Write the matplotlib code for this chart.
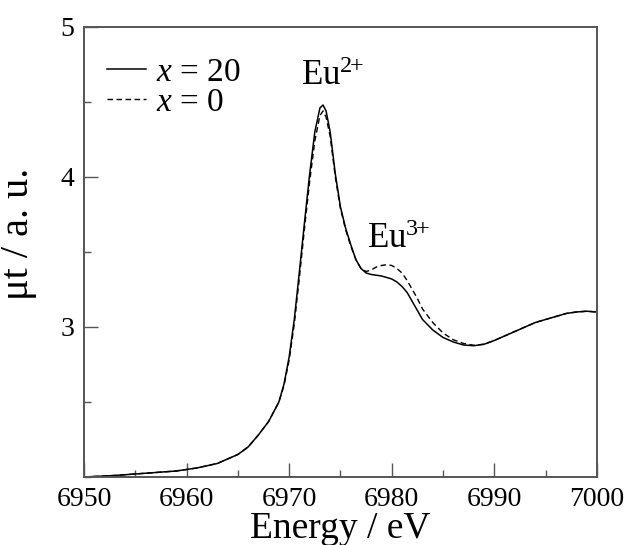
import matplotlib
matplotlib.use('Agg')
import matplotlib.pyplot as plt
from matplotlib.ticker import MultipleLocator

# XANES Eu L3-edge spectra
energy_20 = [6950, 6953, 6956, 6959, 6961, 6963, 6965, 6966, 6967, 6968, 6969,
             6969.5, 6970, 6970.5, 6971, 6971.5, 6972, 6972.5, 6973, 6973.3,
             6973.6, 6974, 6974.5, 6975, 6975.5, 6976, 6976.5, 6977, 6977.5,
             6978, 6979, 6980, 6980.5, 6981, 6981.5, 6982, 6982.5, 6983, 6984,
             6985, 6986, 6987, 6988, 6989, 6990, 6991, 6992, 6993, 6994, 6995,
             6996, 6997, 6998, 6999, 7000]
mut_20 = [2.00, 2.01, 2.025, 2.04, 2.06, 2.09, 2.15, 2.20, 2.28, 2.37, 2.50,
          2.62, 2.80, 3.05, 3.37, 3.70, 4.02, 4.30, 4.46, 4.48,
          4.44, 4.30, 4.02, 3.80, 3.66, 3.55, 3.45, 3.39, 3.36,
          3.35, 3.34, 3.32, 3.30, 3.27, 3.23, 3.17, 3.11, 3.05, 2.98,
          2.93, 2.90, 2.88, 2.875, 2.885, 2.91, 2.94, 2.97, 3.00, 3.03, 3.05,
          3.07, 3.09, 3.10, 3.105, 3.10]

energy_0 = [6950, 6953, 6956, 6959, 6961, 6963, 6965, 6966, 6967, 6968, 6969,
            6969.5, 6970, 6970.5, 6971, 6971.5, 6972, 6972.5, 6973, 6973.3,
            6973.6, 6974, 6974.5, 6975, 6975.5, 6976, 6976.5, 6977, 6977.5,
            6978, 6978.5, 6979, 6979.5, 6980, 6980.5, 6981, 6981.5, 6982,
            6982.5, 6983, 6984, 6985, 6986, 6987, 6988, 6989, 6990, 6991, 6992,
            6993, 6994, 6995, 6996, 6997, 6998, 6999, 7000]
mut_0 = [2.00, 2.01, 2.025, 2.04, 2.06, 2.09, 2.15, 2.20, 2.28, 2.37, 2.50,
         2.61, 2.78, 3.02, 3.33, 3.66, 3.97, 4.24, 4.41, 4.44,
         4.40, 4.27, 4.00, 3.79, 3.65, 3.54, 3.45, 3.39, 3.37,
         3.38, 3.40, 3.41, 3.415, 3.41, 3.39, 3.36, 3.31, 3.25,
         3.19, 3.12, 3.03, 2.96, 2.915, 2.89, 2.878, 2.885, 2.91, 2.94, 2.97,
         3.00, 3.03, 3.05, 3.07, 3.09, 3.10, 3.105, 3.10]

plt.rcParams['font.family'] = 'Liberation Serif'
plt.rcParams['mathtext.fontset'] = 'custom'
plt.rcParams['mathtext.rm'] = 'Liberation Serif'
plt.rcParams['mathtext.it'] = 'Liberation Serif:italic'

fig = plt.figure(figsize=(6.29, 5.45), dpi=100)
ax = fig.add_axes([0.1335, 0.1248, 0.8155, 0.8257])

ax.plot(energy_20, mut_20, color='black', lw=1.1, ls='-', label='$x$ = 20')
ax.plot(energy_0, mut_0, color='black', lw=1.0, ls=(0, (4, 2.5)), label='$x$ = 0')

ax.set_xlim(6950, 7000)
ax.set_ylim(2, 5)
ax.xaxis.set_major_locator(MultipleLocator(10))
ax.xaxis.set_minor_locator(MultipleLocator(5))
ax.set_yticks([3, 4, 5])
ax.yaxis.set_minor_locator(MultipleLocator(0.5))
ax.tick_params(which='both', direction='in', top=False, right=False,
               color='#555555', width=1.0, labelsize=20, pad=7)
ax.tick_params(which='major', length=10)
ax.tick_params(which='minor', length=5)
for s in ax.spines.values():
    s.set_color('#555555')
    s.set_linewidth(1.4)

ax.set_xlabel('Energy / eV', fontsize=27, labelpad=0)
ax.set_ylabel('μt / a. u.', fontsize=29)
ax.yaxis.set_label_coords(-0.092, 0.54)

ax.text(6974.2, 4.56, r'Eu$^{2\!{+}}$', fontsize=25, ha='center', va='bottom')
ax.text(6980.6, 3.47, r'Eu$^{3\!{+}}$', fontsize=25, ha='center', va='bottom')

ax.legend(loc='upper left', frameon=False, fontsize=24, handlelength=1.15,
          handletextpad=0.3, labelspacing=0.0, borderaxespad=0.3,
          bbox_to_anchor=(0.0, 0.985))

fig.savefig('out.png', dpi=100)
